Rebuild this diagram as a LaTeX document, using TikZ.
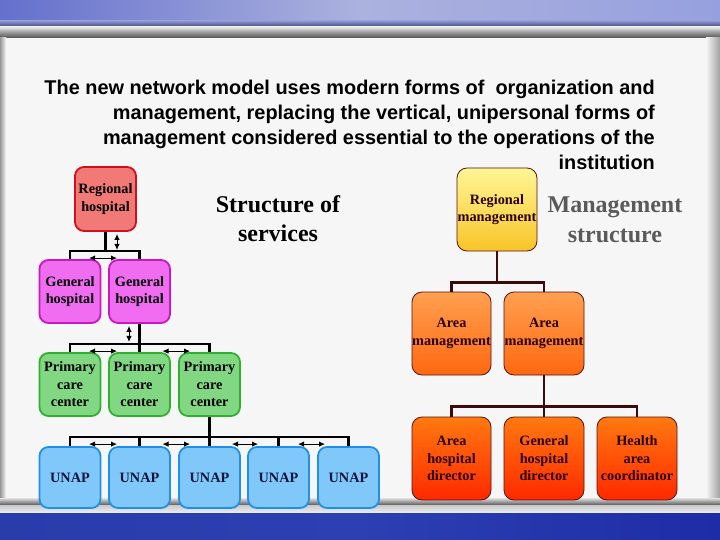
\documentclass[tikz,border=0pt]{standalone}
\usepackage{fontspec}
\setmainfont{Liberation Serif}
\newfontfamily\sansf{Liberation Sans}
\usetikzlibrary{arrows.meta,calc}
\definecolor{rhf}{HTML}{F27A76}
\definecolor{rhb}{HTML}{D0101C}
\definecolor{ghf}{HTML}{F06CF0}
\definecolor{ghb}{HTML}{C818C0}
\definecolor{pcf}{HTML}{82D882}
\definecolor{pcb}{HTML}{30B030}
\definecolor{unf}{HTML}{80C8FA}
\definecolor{unb}{HTML}{1E90E8}
\definecolor{rb}{HTML}{5A1010}
\definecolor{rl}{HTML}{3C0A0A}
\definecolor{greyt}{HTML}{5A5A5A}
\definecolor{bgc}{HTML}{F6F6F6}
\newcommand{\boxfnt}{\fontsize{14.3}{17.5}\selectfont\bfseries}
\newcommand{\ttlfnt}{\sansf\bfseries\fontsize{19.9}{25}\selectfont}
\newcommand{\hdfnt}{\bfseries\fontsize{24}{28}\selectfont}
\begin{document}
\begin{tikzpicture}[x=1pt,y=-1pt,
  bx/.style={rounded corners=9pt, line width=1.8pt, inner sep=0pt, align=center, font=\boxfnt, text=black},
  lbx/.style={bx, minimum width=61pt, minimum height=63pt},
  rhbox/.style={lbx, draw=rhb, fill=rhf, minimum height=64pt},
  ghbox/.style={lbx, draw=ghb, fill=ghf},
  pcbox/.style={lbx, draw=pcb, fill=pcf},
  unbox/.style={lbx, draw=unb, fill=unf, minimum height=61pt, text={rgb,255:red,16;green,20;blue,60}},
  rbx/.style={bx, rounded corners=10pt, line width=0.8pt, draw=rb, minimum width=79pt, minimum height=83pt, text={rgb,255:red,40;green,0;blue,0}},
  rmbox/.style={rbx, top color={rgb,255:red,255;green,246;blue,150}, bottom color={rgb,255:red,248;green,196;blue,40}},
  ambox/.style={rbx, top color={rgb,255:red,255;green,160;blue,80}, bottom color={rgb,255:red,255;green,104;blue,16}},
  dbox/.style={rbx, top color={rgb,255:red,255;green,122;blue,16}, bottom color={rgb,255:red,255;green,40;blue,0}},
  lconn/.style={line width=2.6pt, draw=black},
  rconn/.style={line width=2.4pt, draw=rl},
  darr/.style={line width=1pt, {Latex[length=6pt,width=5.5pt]}-{Latex[length=6pt,width=5.5pt]}},
  ttl/.style={font=\ttlfnt, inner sep=0pt, text=black},
  hd/.style={font=\hdfnt, inner sep=0pt}
]
\useasboundingbox (0,0) rectangle (720,540);
% background
\fill[bgc] (0,0) rectangle (720,540);
\shade[left color={rgb,255:red,100;green,112;blue,204}, right color={rgb,255:red,150;green,160;blue,222}, middle color={rgb,255:red,172;green,178;blue,222}] (0,0) rectangle (720,22);
\shade[top color={rgb,255:red,140;green,148;blue,210}, bottom color={rgb,255:red,64;green,72;blue,112}] (0,21) rectangle (720,27);
\shade[top color={rgb,255:red,232;green,232;blue,232}, bottom color={rgb,255:red,180;green,180;blue,180}] (0,27) rectangle (720,31);
\shade[top color={rgb,255:red,170;green,170;blue,170}, bottom color={rgb,255:red,80;green,80;blue,80}] (0,31) rectangle (720,38);
\shade[left color={rgb,255:red,150;green,150;blue,150}, right color=bgc] (0,38) rectangle (6,500);
\shade[left color=bgc, right color={rgb,255:red,160;green,160;blue,160}] (706,38) rectangle (720,500);
\shade[top color={rgb,255:red,225;green,225;blue,225}, bottom color={rgb,255:red,90;green,90;blue,90}] (0,498) rectangle (720,505);
\shade[top color={rgb,255:red,200;green,200;blue,200}, bottom color={rgb,255:red,240;green,240;blue,240}] (0,505) rectangle (720,513);
\shade[left color={rgb,255:red,40;green,60;blue,170}, right color={rgb,255:red,30;green,44;blue,165}, middle color={rgb,255:red,44;green,64;blue,178}] (0,513) rectangle (720,540);

% title
\node[ttl, anchor=base east] (t1) at (655,95) {The new network model uses modern forms of\ \ organization and};
\node[ttl, anchor=base east] (t2) at (655,120) {management, replacing the vertical, unipersonal forms of};
\node[ttl, anchor=base east] (t3) at (655,145) {management considered essential to the operations of the};
\node[ttl, anchor=base east] (t4) at (655,170) {institution};

% headings
\node[hd, anchor=base] (h1) at (278,213) {Structure of};
\node[hd, anchor=base] (h2) at (278,241) {services};
\node[hd, anchor=base, text=greyt] (h3) at (615,213) {Management};
\node[hd, anchor=base, text=greyt] (h4) at (615,242) {structure};

% left boxes
\node[rhbox] (rh) at (105.5,199) {Regional\\hospital};
\node[ghbox] (gh1) at (70,291.5) {General\\hospital};
\node[ghbox] (gh2) at (139.5,291.5) {General\\hospital};
\node[pcbox] (pc1) at (70,384.5) {Primary\\care\\center};
\node[pcbox] (pc2) at (139.5,384.5) {Primary\\care\\center};
\node[pcbox] (pc3) at (209.5,384.5) {Primary\\care\\center};
\node[unbox] (u1) at (70,477.5) {UNAP};
\node[unbox] (u2) at (139.5,477.5) {UNAP};
\node[unbox] (u3) at (209.5,477.5) {UNAP};
\node[unbox] (u4) at (278.5,477.5) {UNAP};
\node[unbox] (u5) at (348.5,477.5) {UNAP};

% left connectors
\coordinate (j1) at ($(rh.south)+(0,19)$);
\draw[lconn] (rh.south) -- (j1) -| (gh1.north);
\draw[lconn] (j1) -| (gh2.north);
\coordinate (j2) at ($(gh2.south)+(0,20)$);
\draw[lconn] (gh2.south) -- (j2) -| (pc1.north);
\draw[lconn] (j2) -- (pc2.north);
\draw[lconn] (j2) -| (pc3.north);
\coordinate (j3) at ($(pc3.south)+(0,20)$);
\draw[lconn] (pc3.south) -- (j3) -| (u1.north);
\draw[lconn] (j3) -| (u2.north);
\draw[lconn] (j3) -- (u3.north);
\draw[lconn] (j3) -| (u4.north);
\draw[lconn] (j3) -| (u5.north);

% left double arrows
\draw[darr] ($(rh.south)+(11.5,2)$) -- ($(rh.south)+(11.5,18)$);
\draw[darr] ($(gh1.north)+(19,-1)$) -- ($(gh2.north)+(-22.5,-1)$);
\draw[darr] ($(gh2.south)+(-10.5,2)$) -- ($(gh2.south)+(-10.5,18)$);
\draw[darr] ($(pc1.north)+(19,-1)$) -- ($(pc2.north)+(-22.5,-1)$);
\draw[darr] ($(pc2.north)+(23,-1)$) -- ($(pc3.north)+(-19.5,-1)$);
\draw[darr] ($(u1.north)+(19,-2)$) -- ($(u2.north)+(-22.5,-2)$);
\draw[darr] ($(u2.north)+(23,-2)$) -- ($(u3.north)+(-19.5,-2)$);
\draw[darr] ($(u3.north)+(22.5,-2)$) -- ($(u4.north)+(-20.5,-2)$);
\draw[darr] ($(u4.north)+(19.5,-2)$) -- ($(u5.north)+(-23.5,-2)$);

% right boxes
\node[rmbox, minimum width=80pt] (rm) at (497,209.5) {Regional\\management};
\node[ambox] (am1) at (451.5,333.5) {Area\\management};
\node[ambox, minimum width=80pt] (am2) at (544,333.5) {Area\\management};
\node[dbox] (d1) at (451.5,458.5) {Area\\hospital\\director};
\node[dbox, minimum width=80pt] (d2) at (544,458.5) {General\\hospital\\director};
\node[dbox, minimum width=80pt] (d3) at (637,458.5) {Health\\area\\coordinator};

% right connectors
\coordinate (k1) at ($(rm.south)+(0,31)$);
\draw[rconn] (rm.south) -- (k1) -| (am1.north);
\draw[rconn] (k1) -| (am2.north);
\coordinate (k2) at ($(am2.south)+(0,31)$);
\draw[rconn] (am2.south) -- (k2) -| (d1.north);
\draw[rconn] (k2) -- (d2.north);
\draw[rconn] (k2) -| (d3.north);
\end{tikzpicture}
\end{document}
